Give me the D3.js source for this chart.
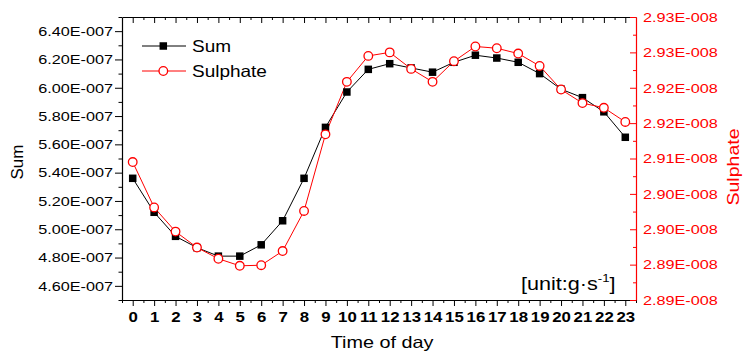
<!DOCTYPE html>
<html>
<head>
<meta charset="utf-8">
<script src="https://cdn.jsdelivr.net/npm/d3@7"></script>
<style>
  body { margin: 0; background: #fff; }
  text { font-family: "Liberation Sans", Arial, sans-serif; }
</style>
</head>
<body>
<svg id="chart" width="744" height="353"></svg>
<script>
var hours = [0, 1, 2, 3, 4, 5, 6, 7, 8, 9, 10, 11, 12, 13, 14, 15, 16, 17, 18, 19, 20, 21, 22, 23];

var sumValues = [5.36e-7, 5.12e-7, 4.95e-7, 4.87e-7, 4.81e-7, 4.81e-7, 4.89e-7, 5.06e-7,
  5.36e-7, 5.72e-7, 5.97e-7, 6.13e-7, 6.17e-7, 6.14e-7, 6.11e-7, 6.18e-7,
  6.23e-7, 6.21e-7, 6.18e-7, 6.10e-7, 5.99e-7, 5.93e-7, 5.83e-7, 5.65e-7];

var sulphateValues = [2.9094e-8, 2.9017e-8, 2.8976e-8, 2.8949e-8, 2.8930e-8, 2.8918e-8, 2.8919e-8, 2.8943e-8,
  2.9011e-8, 2.9141e-8, 2.9230e-8, 2.9274e-8, 2.9280e-8, 2.9252e-8, 2.9230e-8, 2.9265e-8,
  2.9290e-8, 2.9287e-8, 2.9278e-8, 2.9257e-8, 2.9217e-8, 2.9194e-8, 2.9186e-8, 2.9162e-8];

var sumTicks = [4.6e-7, 4.8e-7, 5.0e-7, 5.2e-7, 5.4e-7, 5.6e-7, 5.8e-7, 6.0e-7, 6.2e-7, 6.4e-7];
var sulphateTicks = [2.886e-8, 2.892e-8, 2.898e-8, 2.904e-8, 2.910e-8, 2.916e-8, 2.922e-8, 2.928e-8, 2.934e-8];

var margin = {top: 17, right: 108, bottom: 53, left: 122};
var width = 744 - margin.left - margin.right;
var height = 353 - margin.top - margin.bottom;

var svg = d3.select('#chart');
var g = svg.append('g').attr('transform', 'translate(' + margin.left + ',' + margin.top + ')');

var x = d3.scaleLinear().domain([-0.5, 23.5]).range([0, width]);
var yL = d3.scaleLinear().domain([4.5e-7, 6.5e-7]).range([height, 0]);
var yR = d3.scaleLinear().domain([2.886e-8, 2.934e-8]).range([height, 0]);

// Origin style "6.40E-007"
function sciFormat(exp) {
  return function(v) {
    var m = v / Math.pow(10, exp);
    return m.toFixed(2) + 'E-' + ('00' + (-exp)).slice(-3);
  };
}

function midpoints(arr) {
  var out = [];
  for (var i = 0; i < arr.length - 1; i++) out.push((arr[i] + arr[i + 1]) / 2);
  return out;
}

// the original's Arial is drawn a bit wider than ours
function stretch(sel, k) {
  sel.each(function() {
    var len = this.getComputedTextLength();
    d3.select(this).attr('textLength', len * k).attr('lengthAdjust', 'spacingAndGlyphs');
  });
}

function styleAxis(sel, color) {
  sel.select('.domain').attr('stroke', color).attr('stroke-width', 1.2);
  sel.selectAll('.tick line').attr('stroke', color).attr('stroke-width', 1);
}

// bottom axis
var xAxis = g.append('g').attr('transform', 'translate(0,' + height + ')')
  .call(d3.axisBottom(x).tickValues(hours).tickSizeInner(6).tickSizeOuter(0).tickPadding(6).tickFormat(d3.format('d')));
styleAxis(xAxis, '#000');
xAxis.selectAll('text').attr('font-size', 14).attr('font-weight', 'bold').attr('fill', '#000').call(stretch, 1.2);
g.append('g').attr('transform', 'translate(0,' + height + ')')
  .call(d3.axisBottom(x).tickValues(midpoints(hours).concat([-0.5 + 0.0001, 23.5])).tickSize(3).tickFormat(''))
  .call(function(s) { s.select('.domain').remove(); s.selectAll('line').attr('stroke', '#000'); });

// top axis (ticks inward)
var xTop = g.append('g')
  .call(d3.axisTop(x).tickValues(hours).tickSizeInner(-6).tickSizeOuter(0).tickFormat(''));
styleAxis(xTop, '#000');
g.append('g')
  .call(d3.axisTop(x).tickValues(midpoints(hours)).tickSize(-3).tickFormat(''))
  .call(function(s) { s.select('.domain').remove(); s.selectAll('line').attr('stroke', '#000'); });

// left axis
var leftAxis = g.append('g')
  .call(d3.axisLeft(yL).tickValues(sumTicks).tickSizeInner(7).tickSizeOuter(0).tickPadding(2).tickFormat(sciFormat(-7)));
styleAxis(leftAxis, '#000');
leftAxis.selectAll('text').attr('font-size', 13.5).attr('fill', '#000').call(stretch, 1.2);
g.append('g')
  .call(d3.axisLeft(yL).tickValues(midpoints(sumTicks).concat([4.5e-7, 6.5e-7])).tickSize(3.5).tickFormat(''))
  .call(function(s) { s.select('.domain').remove(); s.selectAll('line').attr('stroke', '#000'); });

// right axis (red, ticks inward)
var rightAxis = g.append('g').attr('transform', 'translate(' + width + ',0)')
  .call(d3.axisRight(yR).tickValues(sulphateTicks).tickSizeInner(-6).tickSizeOuter(0).tickPadding(7).tickFormat(sciFormat(-8)));
styleAxis(rightAxis, 'red');
rightAxis.selectAll('text').attr('font-size', 13.5).attr('fill', 'red').call(stretch, 1.2);
g.append('g').attr('transform', 'translate(' + width + ',0)')
  .call(d3.axisRight(yR).tickValues(midpoints(sulphateTicks)).tickSize(-3).tickFormat(''))
  .call(function(s) { s.select('.domain').remove(); s.selectAll('line').attr('stroke', 'red'); });

// series
var sumLine = d3.line().x(function(d, i) { return x(hours[i]); }).y(function(d) { return yL(d); });
var sulLine = d3.line().x(function(d, i) { return x(hours[i]); }).y(function(d) { return yR(d); });

g.append('path').datum(sumValues).attr('d', sumLine)
  .attr('fill', 'none').attr('stroke', '#000').attr('stroke-width', 1);
g.append('path').datum(sulphateValues).attr('d', sulLine)
  .attr('fill', 'none').attr('stroke', 'red').attr('stroke-width', 1);

var sq = 7.5;
g.selectAll('.sum-pt').data(sumValues).enter().append('rect')
  .attr('class', 'sum-pt')
  .attr('x', function(d, i) { return x(hours[i]) - sq / 2; })
  .attr('y', function(d) { return yL(d) - sq / 2; })
  .attr('width', sq).attr('height', sq).attr('fill', '#000');

g.selectAll('.sul-pt').data(sulphateValues).enter().append('circle')
  .attr('class', 'sul-pt')
  .attr('cx', function(d, i) { return x(hours[i]); })
  .attr('cy', function(d) { return yR(d); })
  .attr('r', 4.3).attr('fill', '#fff').attr('stroke', 'red').attr('stroke-width', 1.3);

// legend
var legend = svg.append('g');
legend.append('line').attr('x1', 142).attr('x2', 186).attr('y1', 46).attr('y2', 46).attr('stroke', '#000');
legend.append('rect').attr('x', 163.3 - sq / 2).attr('y', 46 - sq / 2).attr('width', sq).attr('height', sq).attr('fill', '#000');
legend.append('text').attr('x', 192).attr('y', 52).attr('font-size', 16.5).text('Sum');
legend.append('line').attr('x1', 142).attr('x2', 186).attr('y1', 71).attr('y2', 71).attr('stroke', 'red');
legend.append('circle').attr('cx', 163.3).attr('cy', 71).attr('r', 4.3).attr('fill', '#fff').attr('stroke', 'red').attr('stroke-width', 1.3);
legend.append('text').attr('x', 192).attr('y', 77).attr('font-size', 16.5).text('Sulphate');
legend.selectAll('text').call(stretch, 1.15);

// unit note
var unit = svg.append('text').attr('transform', 'translate(521,290) scale(1.2,1)').attr('font-size', 18);
unit.append('tspan').text('[unit:g\u00b7s');
unit.append('tspan').attr('font-size', 11).attr('dy', -8).text('-1');
unit.append('tspan').attr('dy', 8).text(']');

// axis titles
svg.append('text').attr('transform', 'translate(23,162) rotate(-90)')
  .attr('text-anchor', 'middle').attr('font-size', 17).text('Sum').call(stretch, 1.0);
svg.append('text').attr('transform', 'translate(739,167) rotate(-90)')
  .attr('text-anchor', 'middle').attr('font-size', 17).attr('fill', 'red').text('Sulphate').call(stretch, 1.15);
svg.append('text').attr('x', 382).attr('y', 348)
  .attr('text-anchor', 'middle').attr('font-size', 16.5).text('Time of day').call(stretch, 1.2);
</script>
</body>
</html>
